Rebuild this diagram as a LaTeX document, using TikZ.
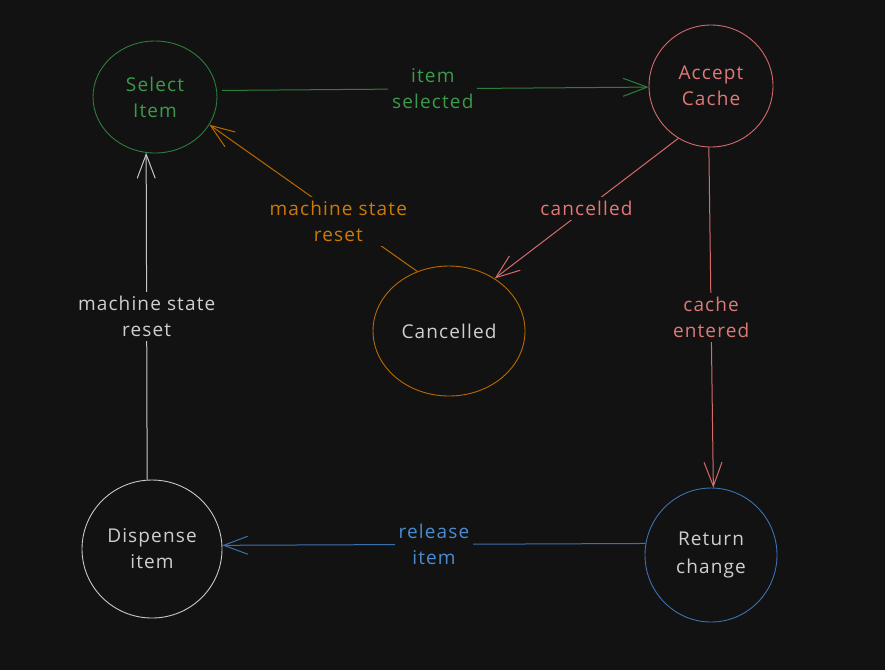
\documentclass[tikz,border=0pt]{standalone}
\usepackage{fontspec}
\setmainfont{Open Sans}[LetterSpace=6]
\usetikzlibrary{shapes.geometric,arrows.meta}
\definecolor{bg}{HTML}{121212}
\definecolor{grnl}{HTML}{2F7D3A}
\definecolor{grnt}{HTML}{3C9A4A}
\definecolor{redl}{HTML}{D46A6A}
\definecolor{redt}{HTML}{E07878}
\definecolor{orgl}{HTML}{B86A00}
\definecolor{orgt}{HTML}{CC7A05}
\definecolor{blul}{HTML}{3B72AE}
\definecolor{blut}{HTML}{4A8CCF}
\definecolor{whl}{HTML}{C8C8C8}
\definecolor{wht}{HTML}{CFCFCF}
\tikzset{
  state/.style={ellipse, draw, line width=0.9pt, inner sep=0pt, align=center,
    font=\fontsize{19}{26}\selectfont},
  lbl/.style={fill=bg, inner sep=4pt, align=center, font=\fontsize{19}{26}\selectfont},
  conn/.style={line width=1pt, -{Straight Barb[length=24pt,width=18pt]}}
}
\begin{document}
\begin{tikzpicture}[x=1pt,y=-1pt]
\fill[bg] (0,0) rectangle (885,670);
\useasboundingbox (0,0) rectangle (885,670);

\node[state, draw=grnl, text=grnt, minimum width=124pt, minimum height=112pt] (sel) at (155,97) {Select\\Item};
\node[state, draw=redl, text=redt, minimum width=124pt, minimum height=122pt] (acc) at (711,86) {Accept\\Cache};
\node[state, draw=orgl, text=wht, minimum width=152pt, minimum height=130pt] (can) at (449,331) {Cancelled};
\node[state, draw=whl, text=wht, minimum width=140pt, minimum height=138pt] (disp) at (152,549) {Dispense\\item};
\node[state, draw=blul, text=wht, minimum width=132pt, minimum height=134pt, font=\fontsize{19}{28}\selectfont] (ret) at (711,555) {Return\\change};

\draw[conn, grnl, shorten <=5pt] (sel.6) -- node[lbl, text=grnt] {item\\selected} (acc.181);
\draw[conn, redl] (acc.238) -- node[lbl, text=redt] {cancelled} (can.49);
\draw[conn, redl] (acc.268) -- node[lbl, text=redt] {cache\\entered} (ret.88);
\draw[conn, blul] (ret.170) -- node[lbl, text=blut] {release\\item} (disp.3);
\draw[conn, whl] (disp.94) -- node[lbl, text=wht] {machine state\\reset} (sel.261);
\draw[conn, orgl] (can.118) -- node[lbl, text=orgt, pos=0.38, yshift=-6pt] {machine state\\reset} (sel.333);
\end{tikzpicture}
\end{document}
